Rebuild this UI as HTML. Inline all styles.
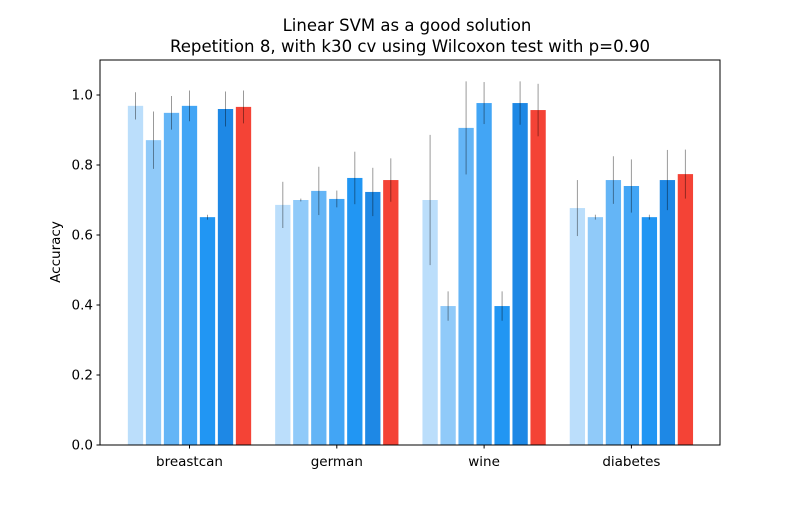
<!DOCTYPE html>
<html><head><meta charset="utf-8"><style>
html,body{margin:0;padding:0;background:#fff;}
svg text{font-family:"DejaVu Sans","Liberation Sans",sans-serif;fill:#000;}
</style></head><body>
<svg id="chart" width="800" height="500" xmlns="http://www.w3.org/2000/svg">
<rect width="800" height="500" fill="#fff"/>
<text x="407" y="31" font-size="16.5" text-anchor="middle">Linear SVM as a good solution</text>
<text x="410" y="52" font-size="16.6" text-anchor="middle">Repetition 8, with k30 cv using Wilcoxon test with p=0.90</text>
<g id="plot"></g>
<text transform="translate(60,252) rotate(-90)" font-size="13.5" text-anchor="middle">Accuracy</text>
</svg>
<script>
const categories = ["breastcan","german","wine","diabetes"];
const seriesColors = ["#bbdefb","#90caf9","#64b5f6","#42a5f5","#2196f3","#1e88e5","#f44336"];
const values = [
 [0.969,0.871,0.949,0.969,0.651,0.960,0.966],
 [0.686,0.700,0.726,0.703,0.763,0.723,0.757],
 [0.700,0.397,0.906,0.977,0.397,0.977,0.957],
 [0.677,0.651,0.757,0.740,0.651,0.757,0.774]
];
const errors = [
 [0.039,0.082,0.048,0.044,0.007,0.050,0.047],
 [0.066,0.004,0.069,0.024,0.075,0.069,0.062],
 [0.186,0.042,0.133,0.060,0.042,0.062,0.075],
 [0.080,0.007,0.068,0.076,0.007,0.086,0.070]
];
const yTicks = [0.0,0.2,0.4,0.6,0.8,1.0];

const L=100,R=720,T=60,B=445;
const y = v => B - v*350;
const xGroup = g => 189.5 + g*147.3;
const pitch = 18, bw = 15.3;
const NS="http://www.w3.org/2000/svg";
const plot=document.getElementById('plot');
function mk(tag,attrs){const e=document.createElementNS(NS,tag);for(const k in attrs)e.setAttribute(k,attrs[k]);plot.appendChild(e);return e;}

values.forEach((row,g)=>{
  row.forEach((v,i)=>{
    const cx = xGroup(g) + (i-3)*pitch;
    const r = mk('rect',{x:cx-bw/2,y:y(v),width:bw,height:B-y(v),fill:seriesColors[i]});
    
    
    const e = errors[g][i];
    const l = mk('line',{x1:cx,x2:cx,y1:y(v+e),y2:y(v-e),stroke:'#000','stroke-opacity':0.4,'stroke-width':1});
    
    
  });
});
const frame = mk('rect',{x:L,y:T,width:R-L,height:B-T,fill:'none',stroke:'#000','stroke-width':1});


yTicks.forEach(t=>{
  const tk = mk('line',{x1:L-3.5,x2:L,y1:y(t),y2:y(t),stroke:'#000'});
  
  
  const tx = mk('text',{x:L-7,y:y(t)+4.5,'font-size':13.5,'text-anchor':'end'});
  tx.textContent=t.toFixed(1);
  
  
});
categories.forEach((c,g)=>{
  const tk = mk('line',{x1:xGroup(g),x2:xGroup(g),y1:B,y2:B+3.5,stroke:'#000'});
  
  
  const tx = mk('text',{x:xGroup(g),y:B+21,'font-size':13.5,'text-anchor':'middle'});
  tx.textContent=c;
  
  
});
</script>
</body></html>
